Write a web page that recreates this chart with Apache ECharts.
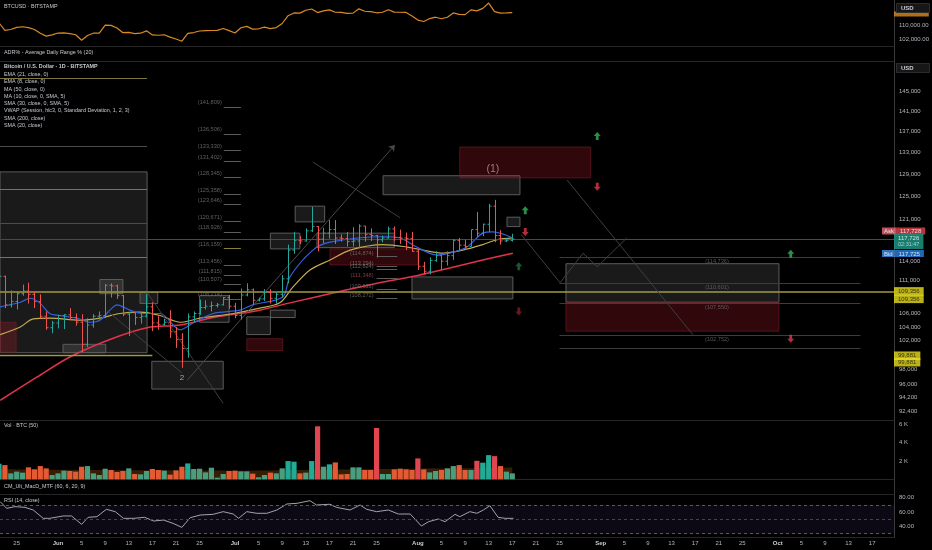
<!DOCTYPE html>
<html>
<head>
<meta charset="utf-8">
<script src="https://cdn.jsdelivr.net/npm/echarts@6.0.0/dist/echarts.min.js"></script>
<style>
html,body{margin:0;padding:0;background:#000;}
#chart{width:932px;height:550px;}
</style>
</head>
<body>
<div id="chart"></div>
<script>
// ===== DATA (day index 0 = 1 Jun; first bar = 22 May) =====
const firstDay = -10;
// daily OHLC in thousands of USD, 22 May .. 17 Aug
const openK = [109.6,111.7,107.3,107.8,109.0,109.4,108.9,107.8,105.6,103.9,
 104.6,105.7,105.8,105.4,104.7,101.5,104.3,105.6,105.7,110.3,
 110.2,108.7,105.9,106.1,105.4,105.6,107.0,104.6,104.4,104.7,
 103.3,102.2,100.9,105.5,106.0,106.9,107.1,107.2,107.3,108.4,
 107.1,105.7,108.8,109.6,108.0,108.2,109.2,108.3,108.9,111.3,
 115.9,117.5,117.4,119.1,119.8,117.7,118.7,119.3,117.9,117.8,
 117.3,117.4,119.9,118.5,118.3,117.6,117.9,119.4,118.0,117.9,
 117.8,115.7,113.3,112.5,114.2,115.0,114.1,115.0,117.5,116.7,
 116.5,119.3,118.7,120.2,123.3,118.3,117.4,117.5];
const highK = [112.0,111.8,109.5,109.3,110.4,110.7,109.3,108.9,106.3,104.9,
 105.8,105.9,106.8,106.0,105.9,105.3,105.9,106.3,110.5,110.6,
 110.4,108.8,106.2,106.2,106.1,108.9,107.7,105.6,105.2,106.5,
 104.0,103.1,106.0,106.3,108.1,108.0,107.8,107.6,108.5,108.8,
 107.6,109.8,110.6,109.8,108.4,109.7,109.7,109.2,111.9,116.8,
 118.9,118.2,119.5,123.2,119.9,119.6,120.9,120.9,118.5,118.9,
 119.7,120.2,119.9,119.5,118.4,118.3,119.8,119.8,119.3,118.8,
 118.9,116.1,114.0,114.7,115.7,115.1,115.7,117.7,117.9,117.6,
 119.3,122.3,120.3,123.7,124.4,119.2,117.9,118.6];
const lowK = [109.2,106.8,106.9,106.6,108.7,107.5,106.8,105.3,103.6,103.1,
 103.8,103.7,105.0,104.2,100.4,101.1,103.9,105.1,105.3,108.4,
 108.2,105.6,102.7,104.3,104.5,105.4,103.4,103.6,104.2,102.4,
 101.0,98.2,99.6,104.7,105.8,106.6,106.3,106.9,107.2,106.7,
 105.3,105.1,108.6,107.3,107.8,107.9,107.5,107.5,108.4,110.6,
 115.3,116.9,117.3,118.9,115.7,117.0,117.8,116.9,117.3,116.5,
 116.5,116.2,117.3,117.4,114.7,117.2,117.8,117.4,116.9,115.9,
 115.6,112.7,112.0,112.0,114.0,112.7,113.4,114.3,115.9,115.9,
 116.5,118.1,118.2,118.9,117.2,116.8,117.2,117.3];
const closeK = [111.7,107.3,107.8,109.0,109.4,108.9,107.8,105.6,103.9,104.6,
 105.7,105.8,105.4,104.7,101.5,104.3,105.6,105.7,110.3,110.2,
 108.7,105.9,106.1,105.4,105.6,107.0,104.6,104.4,104.7,103.3,
 102.2,100.9,105.5,106.0,106.9,107.1,107.2,107.3,108.4,107.1,
 105.7,108.8,109.6,108.0,108.2,109.2,108.3,108.9,111.3,115.9,
 117.5,117.4,119.1,119.8,117.7,118.7,119.3,117.9,117.8,117.3,
 117.4,119.9,118.5,118.3,117.6,117.9,119.4,118.0,117.9,117.8,
 115.7,113.3,112.5,114.2,115.0,114.1,115.0,117.5,116.7,116.5,
 119.3,118.7,120.2,123.3,118.3,117.4,117.5,117.73];
const volumeBTC = [1700,1560,650,840,730,1310,1090,1450,1200,470,
 650,950,910,840,1380,1450,650,470,1160,1020,
 800,910,1200,580,545,910,1130,1020,950,510,
 980,1380,1740,1130,1160,760,1270,180,580,910,
 950,870,870,620,220,470,730,650,1200,2000,
 1930,650,730,2000,5810,1380,1640,1850,545,580,
 1310,1310,1020,1020,5630,580,580,1090,1160,1090,
 1020,2290,1090,760,910,1020,1200,1450,1560,1020,
 1020,2030,1820,2650,2540,1450,840,650];
// Volume MA (50)
const volMaDays = [-10,0,15,30,45,60,70,77];
const volMaVals = [1100,1050,980,950,1050,1150,1200,1300];
// Moving averages (day, thousands USD)
const ema8Days = [-9.8,-6.4,-4.7,-3.1,-1.4,0.3,3.2,5.4,7.1,8.8,10,12.2,14.4,17.3,20.7,22.9,26.3,30.8,33,38.1,39.3,43.2,46.1,55.1,58,60.8,64.2,66.4,69.3,72,73.7,77.1];
const ema8Vals = [107.0,107.7,108.3,107.6,106.0,105.7,105.3,104.7,105.0,106.5,107.3,106.5,106.0,106.0,103.6,104.6,106.0,106.5,107.3,108.5,111.6,115.9,117.2,118.1,117.9,116.4,115.1,115.4,116.4,118.7,118.9,117.9];
const ema21Days = [-9.8,-6.4,-4.2,-1.4,3.7,7.1,10.5,13.9,17.3,20.7,24.1,29.7,34.2,37.6,39.8,42.7,46.1,49.5,55.1,59.2,61.9,65.3,68.6,72,74.4,77.1];
const ema21Vals = [102.9,104.0,105.2,105.3,105.0,105.3,106.0,106.2,105.7,104.7,105.3,106.0,106.8,107.6,110.0,112.7,114.3,115.9,116.8,116.4,115.9,115.4,115.9,116.8,117.6,117.9];
const ma50Days = [-9.8,-3.6,2.0,8.8,15.1,20.7,26.3,34.2,39.3,46.6,55.1,60.8,66.4,72,77.1];
const ma50Vals = [93.8,96.9,99.7,102.2,103.9,104.3,105.4,106.5,107.6,109.1,110.8,111.8,113.0,114.3,115.4];
// RSI (14)
const rsiDays = [-9.8,-8.7,-7.3,-5.6,-4.2,-2.5,-1.4,0.9,2.3,4,5.1,6.6,8.2,9.7,11.1,12.8,14.7,16.2,17.9,19.5,21,22.4,24.1,26.3,28,29.7,30.6,32,33.7,35.4,37.1,38.8,40.5,42.7,43.8,46.1,47.2,49.5,51.2,52.3,54,56,57.7,59.7,61.6,62.8,64.5,65.6,67.3,68.1,69.8,71,72.1,73.2,74.6,75.8,77.2];
const rsiVals = [74.7,65.3,67.7,66.7,63,51.4,51.4,54.7,54.7,43,52.8,53.7,64,60.7,51.4,51.4,52.8,47.7,49,44.4,38.8,52.3,56,57,60.7,57.4,51.4,60.7,58.4,58.4,63,71.4,72.3,76,70,71,66.7,63,70,64,60.7,63,57.4,57.4,40.7,46.7,50.5,46.7,57,53.7,60.7,58.4,63,69,52.8,51.4,51.4];
// Axis ticks
const tickDays = [-7,0,4,8,12,16,20,24,30,34,38,42,46,50,54,61,65,69,73,77,81,85,92,96,100,104,108,112,116,122,126,130,134,138];
const tickLabels = ['25','Jun','5','9','13','17','21','25','Jul','5','9','13','17','21','25','Aug','5','9','13','17','21','25','Sep','5','9','13','17','21','25','Oct','5','9','13','17'];
const priceTicks = [145000,141000,137000,133000,129000,125000,121000,114000,111000,106000,104000,102000,98000,96000,94200,92400];
const topTicks = [102000,110000];
const volTicks = [2000,4000,6000];
const rsiTicks = [40,60,80];
// Drawings (day, price)
const grayBoxes = [[-9.83,129400,15.1,100300],[7.1,111200,11.0,109000],[13.9,109200,16.9,107500],[0.85,101500,8.1,100300],
 [15.9,99100,28.0,95300],[24.0,108700,29.0,104700],[32.0,105500,36.0,102900],[36.0,106500,40.2,105400],
 [36.0,118700,41.0,116100],[40.2,123300,45.2,120600],[43.9,118700,57.0,116300],[60.0,111600,77.1,108200],
 [55.1,128700,78.3,125300],[76.1,121400,78.3,119800],[86.1,113700,122.2,107700]];
const redBoxes = [[-9.83,104700,-7.1,100400],[32.0,102300,38.1,100600],[46.1,116100,61.0,113500],[68.1,134000,90.3,128300],[86.1,107700,122.2,103400]];
const currentPrice = 117726, askPrice = 117728, bidPrice = 117725;
const levelA = 109356, levelB = 99881;
const tanSegments = [[-9.83,15.1,147700],[-9.83,15.1,126300],[-9.83,15.1,114800]];
const graySegments = [[-9.83,15.1,134200],[-9.83,15.1,120400]];
const rightLevels = [114736,110601,107550,102752,100980];
const fibLeft = [141809,136506,133330,131402,128345,125358,123646,120671,118926,116159,113456,111815,110507,108214];
const fibMid = [114874,113294,112824,111348,109636,108272];
const diagLines = [[[8.3,106400],[21,97500]],[[15.1,109200],[28,93400]],[[86.3,127900],[107.6,102900]],[[43.2,131200],[58,121300]],
 [[78.5,118500],[85.1,110700]],[[85.1,110700],[89,115400]],[[89,115400],[91.4,113200]],[[91.4,113200],[96.4,117900]]];
const arrowLine = [[21.9,96500],[57.1,134400]];
const arrowsUp = [[91.4,136100],[79.2,122600],[78.1,113300],[124.2,115300]];
const arrowsDown = [[91.4,126700],[79.2,118900],[78.1,106300],[124.2,102300]];
const waveLabels = [['(1)',73.7,129900],['2',21,96800]];

// ===== CHART =====
const ln = Math.log;
const X_MIN = -9.83, X_MAX = 141.7;
const FONT = 'Liberation Sans';
const TXT = '#b4b7bf';
const UP = '#26a69a', DOWN = '#ef5350';
const fmt = v => v.toLocaleString('en-US');

const ohlcData = closeK.map((c,i)=>[firstDay+i, ln(openK[i]*1000), ln(highK[i]*1000), ln(lowK[i]*1000), ln(c*1000)]);
const lineData = (days, vals) => days.map((d,i)=>[d, ln(vals[i]*1000)]);

function renderOHLC(params, api){
  const d = api.value(0);
  const o = api.coord([d, api.value(1)]), h = api.coord([d, api.value(2)]);
  const l = api.coord([d, api.value(3)]), c = api.coord([d, api.value(4)]);
  const col = api.value(4) >= api.value(1) ? UP : DOWN;
  const x = Math.round(h[0]) + 0.5;
  const st = {stroke: col, lineWidth: 1};
  return {type:'group', children:[
    {type:'line', shape:{x1:x,y1:h[1],x2:x,y2:l[1]}, style:st},
    {type:'line', shape:{x1:x-2,y1:o[1],x2:x,y2:o[1]}, style:st},
    {type:'line', shape:{x1:x,y1:c[1],x2:x+2,y2:c[1]}, style:st}
  ]};
}

const grids = [
  {top:0,height:46},{top:46,height:15},{top:61,height:359},{top:420,height:59.3},{top:479.3,height:14.7},{top:494,height:43.5}
].map(g=>Object.assign({left:0,right:38,containLabel:false,outerBoundsMode:'none'},g));

const xAxes = grids.map((g,i)=>({
  type:'value', gridIndex:i, min:X_MIN, max:X_MAX, position:'bottom',
  axisLine:{show:true,onZero:false,lineStyle:{color:'#262626',width:1}},
  axisTick:{show:false}, splitLine:{show:false},
  axisLabel: i===5 ? {
    show:true, customValues:tickDays, margin:3, fontSize:6, color:TXT, fontFamily:FONT, hideOverlap:false,
    formatter:v=>{const k=tickDays.indexOf(Math.round(v)); const t=tickLabels[k]||''; return isNaN(Number(t))?'{m|'+t+'}':t;},
    rich:{m:{fontWeight:'bold',fontSize:6,color:'#c8cbd2',fontFamily:FONT}}
  } : {show:false}
}));

function yAx(i,min,max,ticks,formatter){
  return {type:'value', gridIndex:i, min, max, position:'right',
    axisLine:{show:true,onZero:false,lineStyle:{color:'#3a3a3a',width:1}},
    axisTick:{show:false}, splitLine:{show:false},
    axisLabel: ticks ? {show:true, customValues:ticks, formatter, margin:5, fontSize:6, color:TXT, fontFamily:FONT, hideOverlap:false, showMinLabel:true, showMaxLabel:true} : {show:false}};
}
const yAxes = [
  yAx(0,98100,125100,topTicks,v=>v.toLocaleString('en-US',{minimumFractionDigits:2,maximumFractionDigits:2})),
  yAx(1,0,1,null),
  yAx(2,ln(91236),ln(151270),priceTicks.map(v=>ln(v)),v=>fmt(Math.round(Math.exp(v)))),
  yAx(3,0,6500,volTicks,v=>Math.round(v/1000)+' K'),
  yAx(4,0,1,null),
  yAx(5,24.7,85.3,rsiTicks,v=>v.toFixed(2))
];

// titles / legends
const legendLines = ['EMA (21, close, 0)','EMA (8, close, 0)','MA (50, close, 0)','MA (10, close, 0, SMA, 5)','SMA (30, close, 0, SMA, 5)','VWAP (Session, hlc3, 0, Standard Deviation, 1, 2, 3)','SMA (200, close)','SMA (20, close)'];
const tStyle = (bold)=>({fontSize:5.4,color:'#c6c9d0',fontWeight:bold?'bold':'normal',fontFamily:FONT});
const titles = [
  {text:'BTCUSD · BITSTAMP',left:4,top:4,padding:0,textStyle:tStyle(false)},
  {text:'ADR% - Average Daily Range % (20)',left:4,top:50,padding:0,textStyle:tStyle(false)},
  {text:'Bitcoin / U.S. Dollar · 1D · BITSTAMP',left:4,top:64.5,padding:0,textStyle:tStyle(true)},
  ...legendLines.map((t,i)=>({text:t,left:4,top:72+i*7.3,padding:0,textStyle:tStyle(false)})),
  {text:'Vol · BTC (50)',left:4,top:423.5,padding:0,textStyle:tStyle(false)},
  {text:'CM_Ult_MacD_MTF (60, 6, 20, 9)',left:4,top:484,padding:0,textStyle:tStyle(false)},
  {text:'RSI (14, close)',left:4,top:498,padding:0,textStyle:tStyle(false)},
  {text:'USD',left:896,top:3,z:30,padding:[2,16,2,5],backgroundColor:'#171717',borderColor:'#2c2c2c',borderWidth:1,textStyle:{fontSize:6,color:'#c6c9d0',fontFamily:FONT}},
  {text:'USD',left:896,top:63,z:30,padding:[2,16,2,5],backgroundColor:'#171717',borderColor:'#2c2c2c',borderWidth:1,textStyle:{fontSize:6,color:'#c6c9d0',fontFamily:FONT}}
];

// drawings on main pane
const areaItems = [
  ...grayBoxes.map(b=>[{coord:[b[0],ln(b[1])],itemStyle:{color:'rgba(255,255,255,0.10)',borderColor:'#5c5c5c',borderWidth:1}},{coord:[b[2],ln(b[3])]}]),
  ...redBoxes.map(b=>[{coord:[b[0],ln(b[1])],itemStyle:{color:'rgba(200,30,45,0.24)',borderColor:'rgba(120,30,40,0.6)',borderWidth:1}},{coord:[b[2],ln(b[3])]}])
];
const seg = (x1,y1,x2,y2,color,width,type)=>[{coord:[x1,ln(y1)],lineStyle:{color,width:width||1,type:type||'solid'}},{coord:[x2,ln(y2)]}];
const lineItems = [
  seg(X_MIN,currentPrice,X_MAX,currentPrice,'#4a4a4a',1),
  seg(X_MIN,levelA,X_MAX,levelA,'#a09a45',1.6),
  seg(X_MIN,levelB,16,levelB,'#a09a45',1.4),
  ...tanSegments.map(s=>seg(s[0],s[2],s[1],s[2],'#7d7640',1)),
  ...graySegments.map(s=>seg(s[0],s[2],s[1],s[2],'#4c4c4c',1)),
  ...rightLevels.map(v=>seg(85,v,136,v,'#3c3c3c',1)),
  ...fibLeft.map(v=>seg(28.1,v,31,v,v===116159?'#8a7f3a':'#5c5c5c',1)),
  ...fibMid.map(v=>seg(54,v,57.5,v,'#5c5c5c',1)),
  ...diagLines.map(l=>seg(l[0][0],l[0][1],l[1][0],l[1][1],'#3f3f3f',1))
];

const labelPts = [
  ...fibLeft.map(v=>({value:[28.1,ln(v)],label:{show:true,position:'left',distance:2,offset:[0,-4],formatter:'('+fmt(v)+')',color:'#7d7876',fontSize:5.6,fontFamily:FONT}})),
  ...fibMid.map(v=>({value:[54,ln(v)],label:{show:true,position:'left',distance:3,offset:[0,-3],formatter:'('+fmt(v)+')',color:v===111348?'#a54652':'#7d7876',fontSize:5.6,fontFamily:FONT}})),
  ...rightLevels.slice(0,4).map(v=>({value:[111.7,ln(v)],label:{show:true,position:'bottom',distance:1,formatter:'('+fmt(v)+')',color:'#6c6c6c',fontSize:5.6,fontFamily:FONT}})),
  ...waveLabels.map(w=>({value:[w[1],ln(w[2])],label:{show:true,position:'inside',formatter:w[0],color:w[0]==='2'?'#c8c8c8':'#b39f86',fontSize:w[0]==='2'?8:10.5,fontFamily:FONT}}))
];

const UP_ARROW = 'path://M5,0 L10,5 L7,5 L7,10 L3,10 L3,5 L0,5 Z';
const arrowPts = [
  ...arrowsUp.map((a,i)=>({value:[a[0],ln(a[1])],symbolRotate:0,itemStyle:{color:i===2?'#1f6e3a':'#34b45a'}})),
  ...arrowsDown.map((a,i)=>({value:[a[0],ln(a[1])],symbolRotate:180,itemStyle:{color:i===2?'#7a1f2b':'#e0384f'}}))
];

function tag(v,text,bg,dy,extra){
  return {value:[X_MAX,ln(v)],label:Object.assign({show:true,position:'right',distance:0,offset:[0,dy],formatter:text,backgroundColor:bg,color:'#fff',fontSize:6,fontFamily:FONT,padding:[1,4,1,4],lineHeight:6.5},extra||{})};
}
const tagPts = [
  tag(askPrice,'{a|Ask}{b|'+fmt(askPrice)+'}','transparent',-8,{padding:0,offset:[-12,-8],rich:{a:{backgroundColor:'#e86872',color:'#fff',fontSize:6,padding:[1,2,0,2],fontFamily:FONT},b:{backgroundColor:'#e0444f',color:'#fff',fontSize:6,padding:[1,4,0,4],fontFamily:FONT}}}),
  tag(currentPrice,fmt(currentPrice)+'\n{t|02:31:47}','#1e9c89',2.5,{rich:{t:{color:'#bfe9e2',fontSize:5.5,fontFamily:FONT}}}),
  tag(bidPrice,'{a|Bid}{b|'+fmt(bidPrice)+'}','transparent',14.5,{padding:0,offset:[-12,14.5],rich:{a:{backgroundColor:'#3f8fe8',color:'#fff',fontSize:6,padding:[1,2,0,2],fontFamily:FONT},b:{backgroundColor:'#2c7fe0',color:'#fff',fontSize:6,padding:[1,4,0,4],fontFamily:FONT}}}),
  tag(levelA,fmt(levelA),'#e9de1b',0,{color:'#111'}),
  tag(levelA,fmt(levelA),'#e9de1b',7.5,{color:'#111'}),
  tag(levelB,fmt(levelB),'#e9de1b',0,{color:'#111'}),
  tag(levelB,fmt(levelB),'#e9de1b',6.5,{color:'#111'})
];

const volData = volumeBTC.map((v,i)=>{
  const up = closeK[i] >= openK[i];
  return {value:[firstDay+i,v],itemStyle:{color: up ? (v>1500?'#22ab94':'#4a9d7e') : (v>2000?'#e0464f':'#e45a35')}};
});

const option = {
  animation:false,
  backgroundColor:'#000',
  textStyle:{fontFamily:FONT},
  title:titles,
  grid:grids, xAxis:xAxes, yAxis:yAxes,
  series:[
    {type:'line',name:'BTCUSD',xAxisIndex:0,yAxisIndex:0,data:closeK.map((c,i)=>[firstDay+i,c*1000]),symbol:'none',
     lineStyle:{color:'#d98a22',width:1.2},z:3},
    {type:'scatter',xAxisIndex:0,yAxisIndex:0,symbolSize:0,z:3,silent:true,
     data:[{value:[X_MAX,closeK[closeK.length-1]*1000],label:{show:true,position:'right',distance:0,offset:[0,1.5],formatter:' ',backgroundColor:'#e0891e',fontSize:3,padding:[1,17,1,17]}}]},
    {type:'line',name:'drawings',xAxisIndex:2,yAxisIndex:2,data:[],z:1,silent:true,
     markArea:{silent:true,label:{show:false},data:areaItems},
     markLine:{silent:true,symbol:['none','none'],label:{show:false},data:lineItems}},
    {type:'line',name:'arrow',xAxisIndex:2,yAxisIndex:2,data:[],z:1,silent:true,
     markLine:{silent:true,symbol:['none','arrow'],symbolSize:6,label:{show:false},lineStyle:{color:'#4a4a4a',width:1,type:'solid'},
       data:[[{coord:[arrowLine[0][0],ln(arrowLine[0][1])]},{coord:[arrowLine[1][0],ln(arrowLine[1][1])]}]]}},
    {type:'line',name:'MA 50',xAxisIndex:2,yAxisIndex:2,data:lineData(ma50Days,ma50Vals),symbol:'none',smooth:0.3,lineStyle:{color:'#e2334c',width:1.5},z:4},
    {type:'line',name:'EMA 21',xAxisIndex:2,yAxisIndex:2,data:lineData(ema21Days,ema21Vals),symbol:'none',smooth:0.3,lineStyle:{color:'#c2ab52',width:1.2},z:4},
    {type:'line',name:'EMA 8',xAxisIndex:2,yAxisIndex:2,data:lineData(ema8Days,ema8Vals),symbol:'none',smooth:0.3,lineStyle:{color:'#3460e0',width:1.2},z:4},
    {type:'custom',name:'BTCUSD OHLC',xAxisIndex:2,yAxisIndex:2,renderItem:renderOHLC,data:ohlcData,encode:{x:0,y:[1,2,3,4]},z:5,clip:true},
    {type:'scatter',name:'arrows',xAxisIndex:2,yAxisIndex:2,symbol:UP_ARROW,symbolSize:[7,8],data:arrowPts,z:6,silent:true},
    {type:'scatter',name:'labels',xAxisIndex:2,yAxisIndex:2,symbolSize:0,data:labelPts,z:6,silent:true},
    {type:'scatter',name:'tags',xAxisIndex:2,yAxisIndex:2,symbolSize:0,data:tagPts,z:20,silent:true,clip:false},
    {type:'line',name:'Vol MA',xAxisIndex:3,yAxisIndex:3,data:volMaDays.map((d,i)=>[d,volMaVals[i]]),symbol:'none',smooth:0.3,
     lineStyle:{width:0},areaStyle:{color:'rgba(255,140,20,0.30)'},z:1},
    {type:'bar',name:'Volume',xAxisIndex:3,yAxisIndex:3,data:volData,barWidth:5.2,z:2},
    {type:'line',name:'RSI',xAxisIndex:5,yAxisIndex:5,data:rsiDays.map((d,i)=>[d,rsiVals[i]]),symbol:'none',
     lineStyle:{color:'#a3a3ad',width:1},z:3,
     markArea:{silent:true,label:{show:false},itemStyle:{color:'rgba(120,90,200,0.10)'},data:[[{yAxis:30},{yAxis:70}]]},
     markLine:{silent:true,symbol:['none','none'],label:{show:false},lineStyle:{color:'#5a5a66',type:[3,3],width:1},
       data:[{yAxis:70},{yAxis:50,lineStyle:{color:'#44444e',type:[3,3]}},{yAxis:30}]}}
  ]
};

const chart = echarts.init(document.getElementById('chart'),null,{renderer:'canvas'});
chart.setOption(option);
</script>
</body>
</html>
